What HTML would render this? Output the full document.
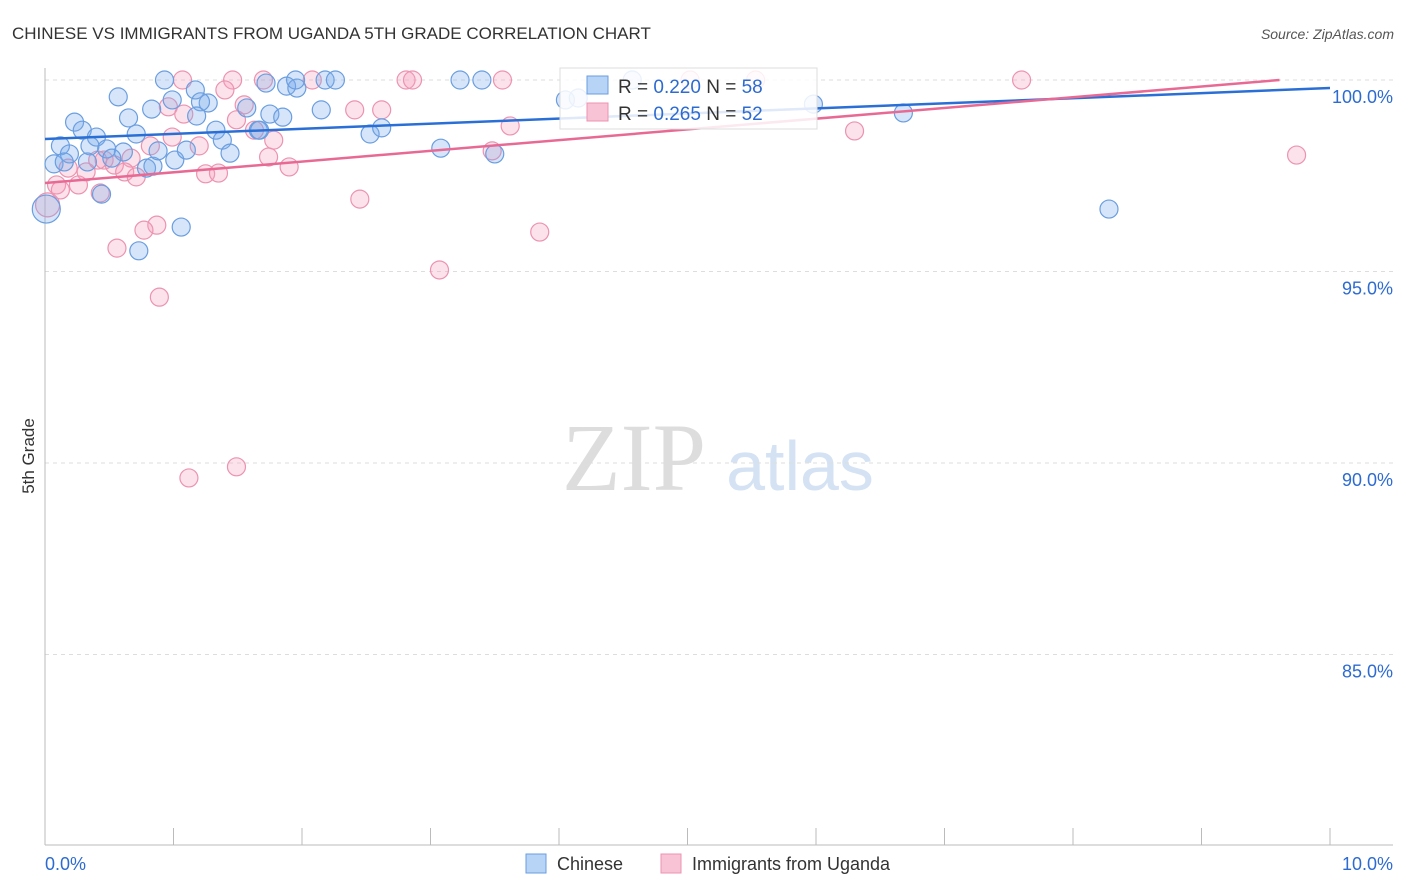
<!DOCTYPE html>
<html><head><meta charset="utf-8"><style>
body{margin:0;background:#fff;font-family:"Liberation Sans",sans-serif;}
svg{display:block}
</style></head><body>
<svg id="chart" width="1406" height="892">
<text x="12" y="39" font-size="17" fill="#333">CHINESE VS IMMIGRANTS FROM UGANDA 5TH GRADE CORRELATION CHART</text>
<text x="1394" y="39" font-size="14" fill="#555" font-style="italic" text-anchor="end">Source: ZipAtlas.com</text>
<text x="634" y="490" font-size="96" fill="#ddd" font-family="Liberation Serif" text-anchor="middle">ZIP</text>
<text x="800" y="490" font-size="70" fill="#d4e2f4" text-anchor="middle">atlas</text>
<text transform="translate(34,456) rotate(-90)" font-size="17" fill="#333" text-anchor="middle">5th Grade</text>
<g id="grid"></g>
<g id="points"></g>
<g id="lines"></g>
<g>
<rect x="560" y="68" width="257" height="61" fill="#fff" fill-opacity="0.85" stroke="#ddd"/>
<rect x="587" y="76" width="21" height="18" fill="#b7d3f5" stroke="#6a9ee0"/>
<rect x="587" y="103" width="21" height="18" fill="#f8c3d4" stroke="#ec93b0"/>
<text x="618" y="93" font-size="19" fill="#333">R = <tspan fill="#2d6bd0">0.220</tspan>   N = <tspan fill="#2d6bd0">58</tspan></text>
<text x="618" y="120" font-size="19" fill="#333">R = <tspan fill="#2d6bd0">0.265</tspan>   N = <tspan fill="#2d6bd0">52</tspan></text>
</g>
<g>
<rect x="526" y="854" width="20" height="19" fill="#b7d3f5" stroke="#6a9ee0"/>
<text x="557" y="870" font-size="18" fill="#333">Chinese</text>
<rect x="661" y="854" width="20" height="19" fill="#f8c3d4" stroke="#ec93b0"/>
<text x="692" y="870" font-size="18" fill="#333">Immigrants from Uganda</text>
</g>
<text x="45" y="870" font-size="18" fill="#2d6bd0">0.0%</text>
<text x="1393" y="870" font-size="18" fill="#2d6bd0" text-anchor="end">10.0%</text>
</svg>
<script>
const blueX=[0.93,1.17,0.57,0.83,0.99,1.27,1.21,1.57,0.65,1.18,0.23,0.29,0.40,0.71,1.33,1.38,1.66,1.75,1.85,1.72,1.88,1.96,1.95,2.18,2.26,2.15,2.53,2.62,3.23,3.40,4.05,4.15,4.57,5.98,6.68,8.28,3.08,3.50,0.12,0.19,0.35,0.48,0.61,0.52,0.07,0.15,0.33,0.79,0.84,0.88,1.01,1.10,1.44,0.44,1.06,0.73,0.01,1.67];
const blueY=[100,99.74,99.56,99.24,99.48,99.40,99.43,99.27,99.01,99.06,98.90,98.69,98.51,98.59,98.69,98.43,98.69,99.11,99.03,99.92,99.84,99.79,100,100,100,99.22,98.59,98.75,100,100,99.48,99.53,100,99.37,99.14,96.63,98.22,98.07,98.28,98.07,98.28,98.20,98.12,97.96,97.81,97.86,97.86,97.70,97.75,98.15,97.91,98.17,98.09,97.02,96.16,95.54,96.63,98.69];
const pinkX=[1.07,1.46,1.70,2.08,2.81,2.86,3.56,5.02,5.53,7.60,1.40,0.96,1.08,1.55,1.49,2.41,2.62,1.63,1.78,0.99,1.20,0.82,0.67,0.46,0.54,1.74,1.90,3.62,3.48,6.30,9.74,0.32,0.18,0.09,0.26,0.62,0.71,1.25,1.35,0.43,2.45,3.85,0.87,0.77,0.56,0.89,3.07,1.49,1.12,0.02,0.12,0.41];
const pinkY=[100,100,100,100,100,100,100,100,100,100,99.74,99.30,99.11,99.35,98.96,99.22,99.22,98.69,98.43,98.51,98.28,98.28,97.96,97.91,97.78,97.99,97.73,98.80,98.15,98.67,98.04,97.60,97.70,97.26,97.26,97.60,97.47,97.55,97.57,97.05,96.89,96.03,96.21,96.08,95.61,94.33,95.04,89.90,89.61,96.74,97.13,97.91];
const yTicks=[100,95,90,85];
const yTickLabels=["100.0%","95.0%","90.0%","85.0%"];
const blueTrend=[98.46,99.79];
const pinkTrend=[97.31,100.11];
const X0=45,X1=1330,YTOP=80,PXPER=38.3;
const sx=v=>X0+v/10*(X1-X0);
const sy=v=>YTOP+(100-v)*PXPER;
const NS="http://www.w3.org/2000/svg";
function mk(tag,attrs,parent){const e=document.createElementNS(NS,tag);for(const k in attrs)e.setAttribute(k,attrs[k]);parent.appendChild(e);return e;}
const grid=document.getElementById('grid');
yTicks.forEach((t,i)=>{
 const l=mk('line',{x1:45,x2:1393,y1:sy(t),y2:sy(t),stroke:'#ddd','stroke-dasharray':'4,4'},grid);
 
 
 const tx=mk('text',{x:1393,y:sy(t)+23,'font-size':18,fill:'#2d6bd0','text-anchor':'end'},grid);
 tx.textContent=yTickLabels[i];
 
 
});
const ax=mk('line',{x1:45,x2:45,y1:68,y2:845,stroke:'#bbb'},grid);


const bx=mk('line',{x1:45,x2:1393,y1:845,y2:845,stroke:'#bbb'},grid);


for(let i=0;i<=10;i++){
 const t=mk('line',{x1:sx(i),x2:sx(i),y1:828,y2:845,stroke:'#bbb'},grid);
 
 
}
const pts=document.getElementById('points');
pinkX.forEach((x,i)=>{
 const c=mk('circle',{cx:sx(x),cy:sy(pinkY[i]),r:(i===49?12:9),fill:'rgba(244,160,188,0.3)',stroke:'#ec93b0','stroke-width':1.2},pts);
 
 
});
blueX.forEach((x,i)=>{
 const c=mk('circle',{cx:sx(x),cy:sy(blueY[i]),r:(i===56?14:9),fill:'rgba(120,170,235,0.3)',stroke:'#6a9ee0','stroke-width':1.2},pts);
 
 
});
const lines=document.getElementById('lines');
const bl=mk('line',{x1:sx(0),y1:sy(blueTrend[0]),x2:sx(10),y2:sy(blueTrend[1]),stroke:'#2a6fd6','stroke-width':2.5},lines);


let px2=10,py2=pinkTrend[1];
if(py2>100){px2=10*(100-pinkTrend[0])/(pinkTrend[1]-pinkTrend[0]);py2=100;}
const pl=mk('line',{x1:sx(0),y1:sy(pinkTrend[0]),x2:sx(px2),y2:sy(py2),stroke:'#e86a94','stroke-width':2.5},lines);


</script>
</body></html>
